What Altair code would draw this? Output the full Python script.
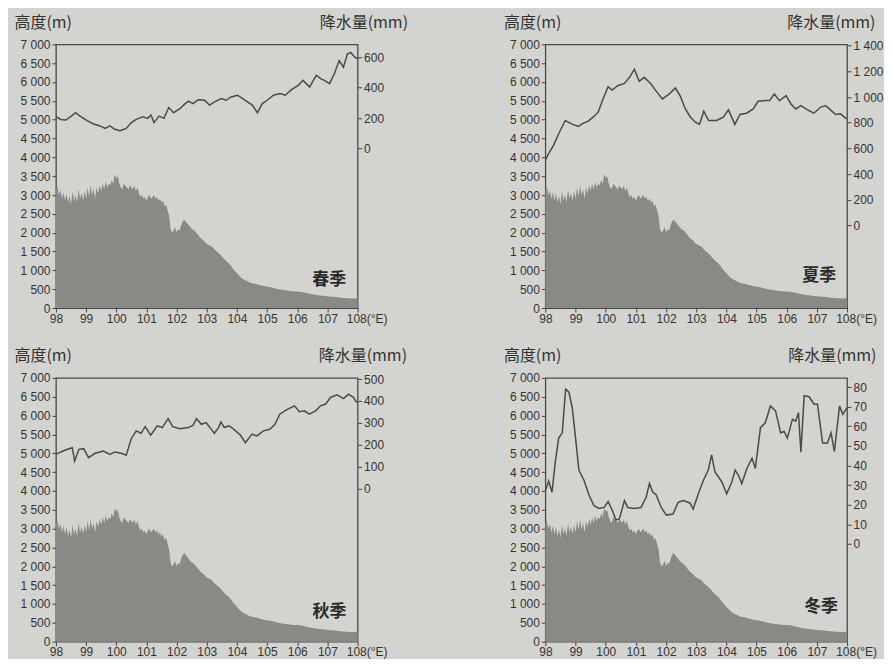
import altair as alt
import pandas as pd

# ---------------- data ----------------
# terrain profile (elevation, m) sampled every 0.05 deg from 98.00E to 108.00E
terrain_elev = [
    3150, 3220, 3000, 3120, 2900, 3080, 2850, 3050, 2800, 2980,
    2750, 3100, 2850, 3000, 2800, 3150, 2900, 3050, 2850, 3100,
    2900, 3200, 2950, 3250, 3000, 3150, 2900, 3200, 3050, 3250,
    3100, 3300, 3150, 3350, 3200, 3300, 3250, 3400, 3300, 3550,
    3450, 3500, 3300, 3200, 3150, 3300, 3250, 3200, 3150, 3250,
    3200, 3150, 3250, 3100, 3200, 3050, 2950, 3000, 2900, 2950,
    2850, 2950, 3000, 2900, 2950, 3000, 2900, 2950, 2850, 2900,
    2800, 2850, 2700, 2750, 2600, 2450, 2100, 2000, 2050, 2150,
    2000, 2100, 2050, 2200, 2300, 2350, 2300, 2250, 2200, 2150,
    2100, 2080, 2050, 2000, 1950, 1900, 1850, 1820, 1790, 1740,
    1700,
    1680, 1660, 1640, 1610, 1560, 1520, 1490, 1450, 1420, 1370,
    1320, 1280, 1240, 1210, 1170, 1120, 1060, 1010, 970, 920,
    880, 840, 800, 770, 750, 730, 710, 690, 670, 660,
    650, 645, 640, 620, 610, 600, 590, 580, 575, 570,
    560, 555, 545, 535, 525, 515, 505, 495, 490, 485,
    478, 470, 465, 460, 455, 450, 447, 445, 442, 440,
    435, 432, 428, 420, 410, 400, 390, 380, 372, 365,
    358, 350, 345, 340, 335, 330, 325, 320, 315, 312,
    308, 305, 300, 298, 295, 290, 285, 280, 275, 270,
    268, 265, 262, 260, 258, 255, 252, 255, 260, 270,
]
terrain_lon = [round(98 + 0.05 * i, 2) for i in range(len(terrain_elev))]

spring_lon = [98.00, 98.16, 98.33, 98.49, 98.65, 98.80, 99.03, 99.25, 99.46, 99.63,
              99.79, 99.95, 100.12, 100.33, 100.50, 100.66, 100.88, 101.04, 101.15, 101.25,
              101.42, 101.58, 101.74, 101.90, 102.12, 102.23, 102.39, 102.55, 102.71, 102.93,
              103.09, 103.26, 103.48, 103.64, 103.80, 104.02, 104.19, 104.35, 104.51, 104.68,
              104.84, 105.00, 105.21, 105.43, 105.60, 105.81, 106.03, 106.19, 106.41, 106.63,
              106.79, 106.90, 107.07, 107.23, 107.39, 107.53, 107.66, 107.77, 107.91, 108.00]
spring_p = [209, 191, 187, 209, 235, 213, 183, 161, 148, 132,
            148, 126, 117, 132, 170, 191, 209, 198, 220, 170,
            213, 198, 269, 235, 263, 285, 311, 295, 321, 317,
            285, 306, 328, 317, 339, 350, 328, 306, 285, 235,
            295, 317, 350, 361, 350, 387, 415, 448, 404, 481,
            458, 448, 426, 491, 578, 535, 621, 632, 600, 589]

summer_lon = [98.00, 98.13, 98.27, 98.44, 98.66, 98.87, 99.09, 99.26, 99.42, 99.58,
              99.75, 99.91, 100.08, 100.21, 100.40, 100.62, 100.79, 100.95, 101.11, 101.28,
              101.50, 101.66, 101.88, 102.10, 102.31, 102.48, 102.64, 102.81, 102.97, 103.11,
              103.25, 103.41, 103.68, 103.90, 104.07, 104.28, 104.45, 104.67, 104.89, 105.05,
              105.27, 105.43, 105.59, 105.76, 105.98, 106.14, 106.30, 106.47, 106.69, 106.90,
              107.12, 107.29, 107.45, 107.62, 107.78, 107.94, 108.00]
summer_p = [508, 570, 624, 714, 817, 791, 771, 797, 812, 843,
            882, 985, 1080, 1054, 1088, 1106, 1153, 1217, 1122, 1153,
            1101, 1050, 985, 1023, 1070, 1003, 907, 843, 804, 787,
            890, 817, 817, 843, 900, 787, 864, 874, 907, 967,
            972, 972, 1023, 972, 1011, 946, 907, 933, 900, 874,
            920, 933, 900, 864, 869, 838, 830]

autumn_lon = [98.00, 98.16, 98.38, 98.54, 98.62, 98.76, 98.92, 99.08, 99.30, 99.57,
              99.79, 99.95, 100.17, 100.33, 100.49, 100.66, 100.82, 100.96, 101.14, 101.36,
              101.52, 101.72, 101.87, 102.12, 102.39, 102.55, 102.66, 102.82, 102.98, 103.15,
              103.25, 103.39, 103.47, 103.58, 103.74, 103.90, 104.12, 104.28, 104.50, 104.66,
              104.88, 105.09, 105.26, 105.42, 105.64, 105.91, 106.07, 106.23, 106.40, 106.61,
              106.77, 106.94, 107.10, 107.32, 107.53, 107.70, 107.86, 107.97]
autumn_p = [157, 168, 180, 187, 127, 180, 183, 142, 162, 172,
            157, 168, 162, 153, 226, 264, 253, 283, 244, 287,
            279, 320, 283, 274, 279, 290, 320, 294, 302, 271,
            253, 279, 305, 279, 287, 271, 244, 210, 249, 241,
            264, 271, 294, 340, 360, 378, 351, 355, 340, 355,
            378, 386, 416, 428, 411, 431, 417, 393]

winter_lon = [98.00, 98.11, 98.22, 98.33, 98.44, 98.56, 98.67, 98.78, 98.89, 99.00,
              99.11, 99.28, 99.45, 99.61, 99.78, 99.95, 100.08, 100.19, 100.34, 100.45,
              100.62, 100.73, 100.95, 101.17, 101.34, 101.45, 101.56, 101.67, 101.84, 102.01,
              102.23, 102.40, 102.57, 102.79, 102.90, 103.07, 103.24, 103.40, 103.51, 103.62,
              103.85, 104.01, 104.18, 104.29, 104.40, 104.51, 104.68, 104.85, 104.96, 105.13,
              105.29, 105.46, 105.63, 105.80, 105.91, 106.02, 106.19, 106.30, 106.39, 106.47,
              106.58, 106.74, 106.91, 107.02, 107.19, 107.35, 107.47, 107.58, 107.75, 107.86,
              108.00]
winter_p = [27.3, 32.0, 26.4, 42.0, 54.0, 56.7, 79.0, 77.4, 69.6, 54.0,
            37.7, 32.5, 24.7, 19.5, 18.1, 18.6, 21.6, 18.1, 12.3, 12.6,
            22.1, 18.6, 18.1, 18.6, 23.8, 30.8, 26.4, 25.1, 18.6, 14.7,
            15.2, 21.2, 22.1, 20.9, 17.8, 25.6, 32.5, 37.7, 45.4, 36.8,
            31.6, 25.6, 31.6, 37.7, 35.0, 30.8, 38.5, 43.7, 38.5, 59.3,
            61.8, 70.4, 67.9, 56.7, 57.5, 54.0, 63.6, 62.7, 67.0, 46.8,
            75.6, 75.1, 71.3, 71.3, 51.5, 51.5, 56.7, 47.1, 70.4, 66.1,
            69.6]

season_names = ["春季", "夏季", "秋季", "冬季"]
x_ticks = list(range(98, 109))
elev_ticks = list(range(0, 7001, 500))
precip_ticks = [
    [0, 200, 400, 600],
    [0, 200, 400, 600, 800, 1000, 1200, 1400],
    [0, 100, 200, 300, 400, 500],
    [0, 10, 20, 30, 40, 50, 60, 70, 80],
]

# ---------------- styling / layout ----------------
BG = "#d3d3cf"
TERRAIN = "#898986"
LINE = "#4a4a4a"
INK = "#333333"
CJK = "Noto Sans CJK SC"
NUM = "Liberation Sans"
W, H = 302, 264

# right-axis domain chosen so that the precipitation axis sits in the upper part of the panel
precip_domains = [[-1050, 685], [-642, 1410], [-696, 505], [-49.9, 84.7]]
right_title_x = [50, 28, 49, 29]
label_pos = [(107.06, 740), (107.08, 845), (107.07, 800), (107.14, 916)]

terrain_df = pd.DataFrame({"lon": terrain_lon, "elev": terrain_elev})
series = [(spring_lon, spring_p), (summer_lon, summer_p),
          (autumn_lon, autumn_p), (winter_lon, winter_p)]

thousands = "replace(format(datum.value, ','), ',', ' ')"


def x_enc():
    return alt.X(
        "lon:Q",
        scale=alt.Scale(domain=[98, 108], nice=False, zero=False),
        axis=alt.Axis(
            values=x_ticks, title=None, labelFlush=False, labelOverlap=False,
            labelExpr="datum.value == 108 ? '108(°E)' : datum.label",
            labelOffset={"condition": {"test": "datum.value == 108", "value": 9}, "value": 0},
            tickSize=4, labelPadding=1,
        ),
    )


def panel(i):
    lon, p = series[i]
    area = alt.Chart(terrain_df).mark_area(color=TERRAIN, opacity=1).encode(
        x=x_enc(),
        y=alt.Y(
            "elev:Q",
            scale=alt.Scale(domain=[0, 7000], nice=False),
            axis=alt.Axis(
                values=elev_ticks, labelExpr=thousands, orient="left", labelOverlap=False,
                title="高度(m)", titleAngle=0, titleAlign="left", titleBaseline="middle",
                titleX=-42, titleY=-22, tickSize=4, labelPadding=2,
            ),
        ),
    )
    pdf = pd.DataFrame({"lon": lon, "p": p})
    line = alt.Chart(pdf).mark_line(color=LINE, strokeWidth=1.5).encode(
        x=x_enc(),
        y=alt.Y(
            "p:Q",
            scale=alt.Scale(domain=precip_domains[i], nice=False, zero=False),
            axis=alt.Axis(
                values=precip_ticks[i], labelExpr=thousands, orient="right", labelOverlap=False,
                title="降水量(mm)", titleAngle=0, titleAlign="right", titleBaseline="middle",
                titleX=right_title_x[i], titleY=-22, tickSize=4, labelPadding=2,
            ),
        ),
    )
    lx, ly = label_pos[i]
    tdf = pd.DataFrame({"lon": [lx], "elev": [ly], "t": [season_names[i]]})
    text = alt.Chart(tdf).mark_text(
        font=CJK, fontSize=17, fontWeight="bold", color="#2a2a2a", align="center", baseline="middle"
    ).encode(
        x=x_enc(),
        y=alt.Y("elev:Q", scale=alt.Scale(domain=[0, 7000], nice=False), axis=None),
        text="t:N",
    )
    return alt.layer(area, line, text).resolve_scale(y="independent").properties(width=W, height=H)


chart = alt.concat(
    panel(0), panel(1), panel(2), panel(3),
    columns=2, spacing={"row": 70, "column": 188}, bounds="flush",
).properties(
    padding={"left": 5, "top": 5, "right": 0, "bottom": 0},
    background=BG,
).configure_view(
    stroke="#4a4a4a", strokeWidth=1.3, fill=BG,
).configure_axis(
    grid=False, domain=False, tickColor="#444444", labelColor=INK,
    labelFont=NUM, labelFontSize=12, titleFont=CJK, titleFontSize=16,
    titleFontWeight="normal", titleColor=INK,
)

chart.save("out.html", embed_options={"renderer": "svg", "actions": False})
